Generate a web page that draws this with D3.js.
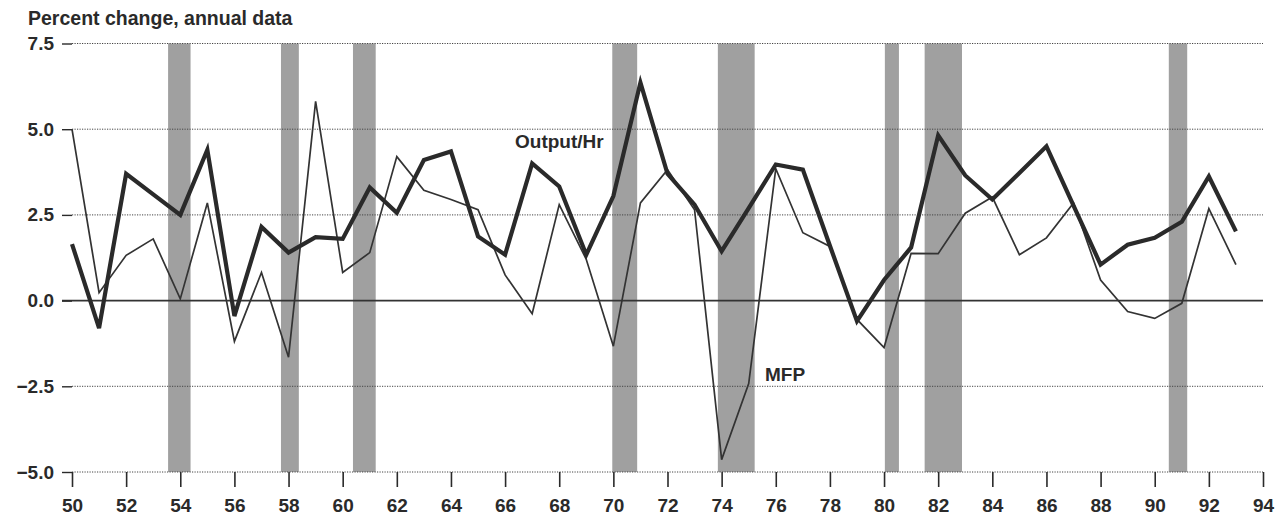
<!DOCTYPE html>
<html>
<head>
<meta charset="utf-8">
<script src="https://cdn.jsdelivr.net/npm/d3@7"></script>
<style>
  html, body { margin: 0; padding: 0; background: #fff; }
  svg { display: block; }
  text { font-family: "Liberation Sans", Arial, Helvetica, sans-serif; font-weight: bold; fill: #2a2a2a; }
</style>
</head>
<body>
<svg id="chart" width="1280" height="519"></svg>
<script>
// ---- data ----
const years = d3.range(1950, 1994).map(y => y - 1900); // 50..93
const outputPerHour = [1.65, -0.8, 3.7, 3.1, 2.5, 4.4, -0.45, 2.15, 1.4, 1.85,
  1.8, 3.3, 2.56, 4.1, 4.35, 1.87, 1.34, 4.0, 3.33, 1.34,
  3.05, 6.36, 3.7, 2.8, 1.44, 2.7, 3.97, 3.82, 1.6, -0.6,
  0.6, 1.55, 4.82, 3.65, 2.95, 3.72, 4.5, 2.77, 1.05, 1.63,
  1.83, 2.3, 3.62, 2.02];
const mfp = [5.0, 0.23, 1.32, 1.8, 0.05, 2.85, -1.19, 0.82, -1.65, 5.81,
  0.82, 1.4, 4.2, 3.22, 2.95, 2.65, 0.75, -0.38, 2.8, 1.2,
  -1.33, 2.85, 3.82, 2.65, -4.64, -2.42, 3.85, 1.98, 1.58, -0.55,
  -1.37, 1.38, 1.37, 2.55, 3.02, 1.34, 1.83, 2.85, 0.6, -0.32,
  -0.52, -0.08, 2.68, 1.05];
const recessionStarts = [53.55, 57.72, 60.38, 69.96, 73.86, 80.03, 81.5, 90.52];
const recessionEnds   = [54.38, 58.38, 61.22, 70.88, 75.22, 80.55, 82.88, 91.2];
const yTicks = [-5, -2.5, 0, 2.5, 5, 7.5];
const xTicks = d3.range(50, 95, 2);
const titleText = "Percent change, annual data";
const seriesLabels = ["Output/Hr", "MFP"];

// ---- layout ----
const svg = d3.select("#chart");
const x = d3.scaleLinear().domain([50, 94]).range([72, 1263]);
const y = d3.scaleLinear().domain([-5, 7.5]).range([472, 43.5]);
const ink = "#2a2a2a";
const fontStack = "'Liberation Sans', Arial, sans-serif";

// recession bars
svg.append("g").selectAll("rect")
  .data(recessionStarts.map((s, i) => [s, recessionEnds[i]]))
  .join("rect")
  .attr("x", d => x(d[0]))
  .attr("width", d => x(d[1]) - x(d[0]))
  .attr("y", y(7.5))
  .attr("height", y(-5) - y(7.5))
  .attr("fill", "#a0a0a0");

// gridlines (dotted) for non-zero ticks
svg.append("g").selectAll("line")
  .data(yTicks.filter(t => t !== 0))
  .join("line")
  .attr("x1", x(50)).attr("x2", x(94))
  .attr("y1", d => y(d)).attr("y2", d => y(d))
  .attr("stroke", "#444").attr("stroke-width", 1)
  .attr("stroke-dasharray", "1.2,1.3");

// zero line (solid)
svg.append("line")
  .attr("x1", 62).attr("x2", x(94))
  .attr("y1", y(0)).attr("y2", y(0))
  .attr("stroke", "#333").attr("stroke-width", 1.6);

// y axis ticks + labels
const yAxis = d3.axisLeft(y).tickValues(yTicks).tickSize(10).tickPadding(8)
  .tickFormat(d => (d < 0 ? "\u2212" : "") + Math.abs(d).toFixed(1));
const gy = svg.append("g").attr("transform", `translate(${x(50)},0)`).call(yAxis);
gy.select(".domain").remove();
gy.selectAll(".tick line").attr("stroke", ink).attr("stroke-width", 1.4);
gy.selectAll(".tick text").attr("font-size", 19).attr("fill", ink)
  .style("font-family", fontStack).style("font-weight", "bold");

// x axis ticks + labels
const xAxis = d3.axisBottom(x).tickValues(xTicks).tickSize(15).tickPadding(12)
  .tickFormat(d => String(d));
const gx = svg.append("g").attr("transform", `translate(0,${y(-5)})`).call(xAxis);
gx.select(".domain").remove();
gx.selectAll(".tick line").attr("stroke", ink).attr("stroke-width", 1.6);
gx.selectAll(".tick text").attr("font-size", 19).attr("fill", ink)
  .style("font-family", fontStack).style("font-weight", "bold");

// lines
const line = d3.line().x((d, i) => x(years[i])).y(d => y(d));
svg.append("path").datum(mfp)
  .attr("d", line).attr("fill", "none")
  .attr("stroke", "#333").attr("stroke-width", 1.7).attr("stroke-linejoin", "miter");
svg.append("path").datum(outputPerHour)
  .attr("d", line).attr("fill", "none")
  .attr("stroke", ink).attr("stroke-width", 4.2).attr("stroke-linejoin", "miter");

// title
svg.append("text").attr("x", 28).attr("y", 25).attr("font-size", 19.5).text(titleText);

// series labels
svg.append("text").attr("x", 515).attr("y", 148).attr("font-size", 19).text(seriesLabels[0]);
svg.append("text").attr("x", 765).attr("y", 381).attr("font-size", 19).text(seriesLabels[1]);
</script>
</body>
</html>
